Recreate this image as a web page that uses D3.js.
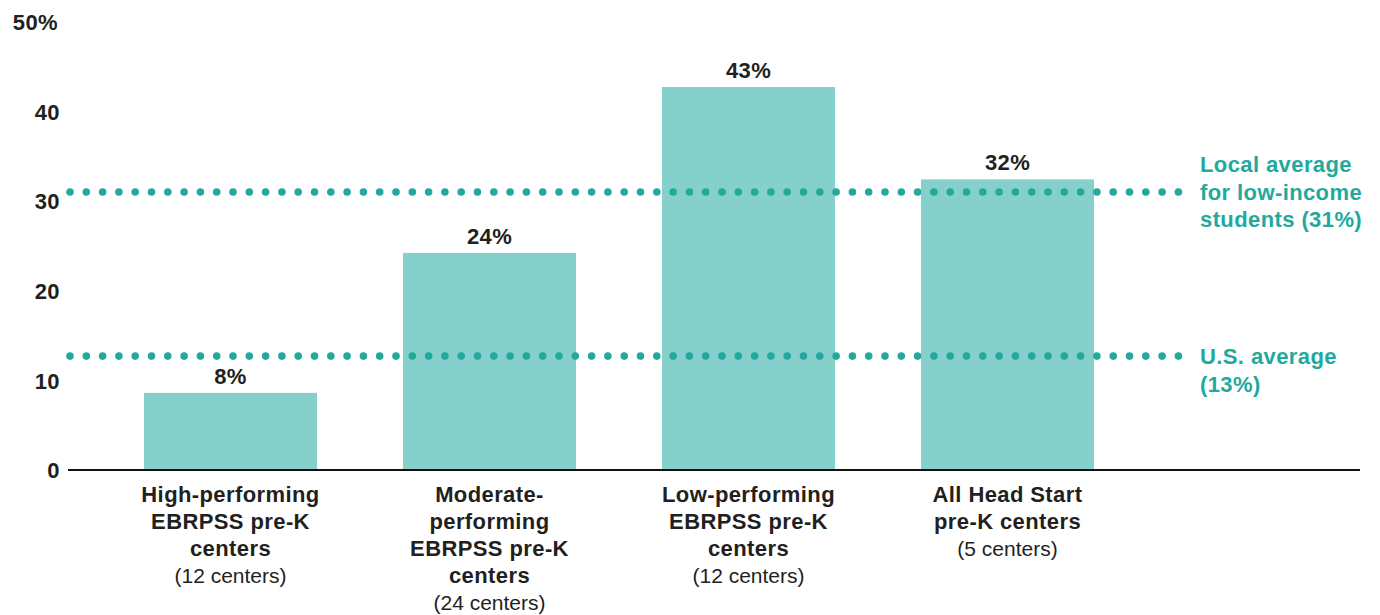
<!DOCTYPE html>
<html>
<head>
<meta charset="utf-8">
<script src="https://cdn.jsdelivr.net/npm/d3@7"></script>
<style>
  html, body { margin: 0; padding: 0; background: #fff; }
  svg { display: block; }
  text { font-family: "Liberation Sans", Arial, Helvetica, sans-serif; }
</style>
</head>
<body>
<svg id="chart" width="1380" height="615"></svg>
<script>
// ---- data ----
const categories = ["High", "Moderate", "Low", "HeadStart"];
const categoryLabels = [
  ["High-performing", "EBRPSS pre-K", "centers"],
  ["Moderate-", "performing", "EBRPSS pre-K", "centers"],
  ["Low-performing", "EBRPSS pre-K", "centers"],
  ["All Head Start", "pre-K centers"]
];
const categoryCounts = ["(12 centers)", "(24 centers)", "(12 centers)", "(5 centers)"];
const values = [8.6, 24.2, 42.7, 32.4];
const valueLabels = ["8%", "24%", "43%", "32%"];
const refValues = [31, 12.7];
const refLabels = [
  ["Local average", "for low-income", "students (31%)"],
  ["U.S. average", "(13%)"]
];
const yTicks = [0, 10, 20, 30, 40, 50];
const yTickLabels = ["0", "10", "20", "30", "40", "50%"];

// ---- chart ----
const svg = d3.select("#chart");
const dark = "#231f20";
const teal = "#22a99e";
const barColor = "#86d0cb";
const boldSize = 22, boldSpacing = 0.4;

const y = d3.scaleLinear().domain([0, 50]).range([470, 21.5]);
const x = d3.scaleBand().domain(categories).range([101, 1137])
  .paddingInner(0.332).paddingOuter(0.166);

// y tick labels
const yAxis = d3.axisLeft(y).tickValues(yTicks)
  .tickFormat((d, i) => yTickLabels[i]).tickSize(0).tickPadding(0);
const yg = svg.append("g").attr("transform", "translate(60,0)").call(yAxis);
yg.select(".domain").remove();
yg.selectAll("text")
  .attr("fill", dark)
  .attr("font-size", boldSize)
  .attr("font-weight", "bold")
  .attr("letter-spacing", boldSpacing)
  .attr("dy", "0.36em")
  .attr("x", (d) => d === 50 ? -2 : 0);

// bars
svg.append("g").selectAll("rect").data(values).join("rect")
  .attr("x", (d, i) => x(categories[i]))
  .attr("y", d => y(d))
  .attr("width", x.bandwidth())
  .attr("height", d => y(0) - y(d))
  .attr("fill", barColor);

// value labels
svg.append("g").selectAll("text").data(values).join("text")
  .attr("x", (d, i) => x(categories[i]) + x.bandwidth() / 2)
  .attr("y", d => y(d) - 9)
  .attr("text-anchor", "middle")
  .attr("font-size", boldSize)
  .attr("letter-spacing", boldSpacing)
  .attr("font-weight", "bold")
  .attr("fill", dark)
  .text((d, i) => valueLabels[i]);

// x axis baseline
svg.append("line")
  .attr("x1", 68).attr("x2", 1360)
  .attr("y1", y(0)).attr("y2", y(0))
  .attr("stroke", "#111").attr("stroke-width", 2.2);

// reference dotted lines
const dotStart = 70, dotEnd = 1180, dotStep = 16.3;
refValues.forEach((v) => {
  const n = Math.floor((dotEnd - dotStart) / dotStep) + 1;
  svg.append("g").selectAll("circle").data(d3.range(n)).join("circle")
    .attr("cx", k => dotStart + k * dotStep)
    .attr("cy", y(v))
    .attr("r", 3.8)
    .attr("fill", teal);
});

// reference labels
refLabels.forEach((lines, j) => {
  const yy = y(refValues[j]);
  const startY = j === 0 ? yy - 27.5 : yy;
  const t = svg.append("text")
    .attr("x", 1200)
    .attr("font-size", boldSize)
    .attr("letter-spacing", boldSpacing)
    .attr("font-weight", "bold")
    .attr("fill", teal);
  lines.forEach((l, k) => {
    t.append("tspan").attr("x", 1200).attr("y", startY + k * 27.5).attr("dy", "0.36em").text(l);
  });
});

// category labels
categories.forEach((c, i) => {
  const cx = x(c) + x.bandwidth() / 2;
  const t = svg.append("text")
    .attr("text-anchor", "middle")
    .attr("fill", dark);
  const lines = categoryLabels[i];
  lines.forEach((l, k) => {
    t.append("tspan").attr("x", cx).attr("y", 494 + k * 27).attr("dy", "0.36em")
      .attr("font-size", boldSize).attr("letter-spacing", boldSpacing)
      .attr("font-weight", "bold").text(l);
  });
  t.append("tspan").attr("x", cx).attr("y", 494 + lines.length * 27).attr("dy", "0.36em")
    .attr("font-size", 21).attr("font-weight", "normal").text(categoryCounts[i]);
});
</script>
</body>
</html>
